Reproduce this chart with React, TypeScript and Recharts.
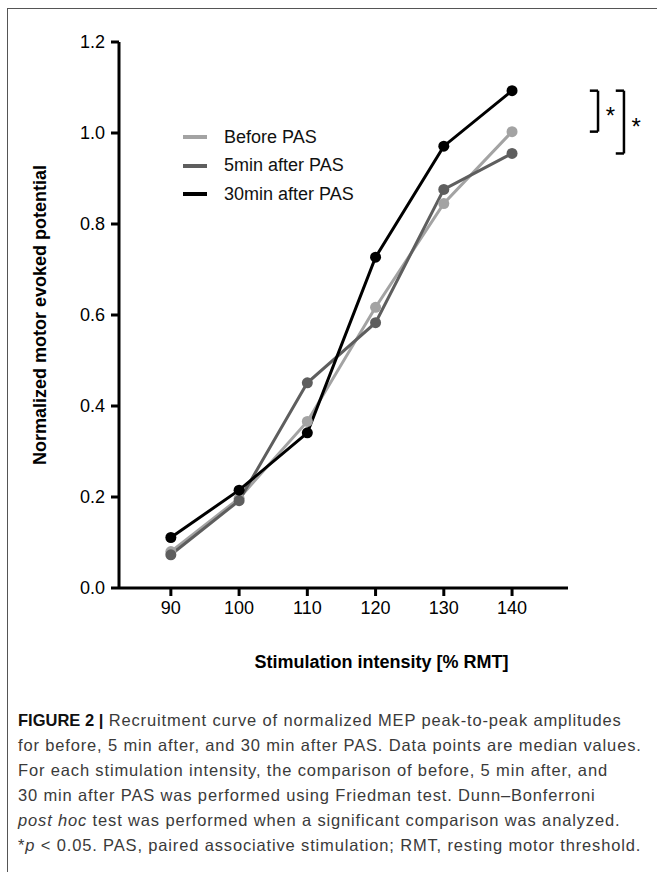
import { LineChart, Line, XAxis, YAxis, ReferenceLine, ReferenceDot } from 'recharts';

const intensities = [90, 100, 110, 120, 130, 140];
const beforePAS = [0.08, 0.197, 0.366, 0.617, 0.845, 1.003];
const after5min = [0.073, 0.192, 0.451, 0.583, 0.876, 0.955];
const after30min = [0.111, 0.215, 0.341, 0.727, 0.971, 1.093];
const yTicks = [0, 0.2, 0.4, 0.6, 0.8, 1.0, 1.2];

const seriesInfo = [
  { key: 'before', name: 'Before PAS', color: '#a3a3a3' },
  { key: 'min5', name: '5min after PAS', color: '#5e5e5e' },
  { key: 'min30', name: '30min after PAS', color: '#000000' },
];

const chartData = intensities.map((x, i) => ({
  x,
  before: beforePAS[i],
  min5: after5min[i],
  min30: after30min[i],
}));

const FONT = '"Liberation Sans", Arial, sans-serif';

// bracket positions, on the right of the last point
const last = intensities.length - 1;
const bracketInner = 152.6;
const bracketOuter = 156.4;
const bracketTick = 1.2;

function YTitle(props: any) {
  const vb = props.viewBox;
  const cx = vb.x + 20;
  const cy = vb.y + vb.height / 2;
  return (
    <text x={cx} y={cy} transform={`rotate(-90, ${cx}, ${cy})`} textAnchor="middle"
      dominantBaseline="central" fontFamily={FONT} fontWeight="bold" fontSize={18} fill="#000">
      Normalized motor evoked potential
    </text>
  );
}

function XTitle(props: any) {
  const vb = props.viewBox;
  return (
    <text x={vb.x + vb.width / 2 + 38} y={vb.y + 74} textAnchor="middle"
      dominantBaseline="central" fontFamily={FONT} fontWeight="bold" fontSize={18} fill="#000">
      Stimulation intensity [% RMT]
    </text>
  );
}

function LegendBox() {
  return (
    <div style={{ position: 'absolute', left: 183, top: 123, fontFamily: FONT, fontSize: 18, color: '#111' }}>
      {seriesInfo.map((s) => (
        <div key={s.key} style={{ display: 'flex', alignItems: 'center', height: 28.5 }}>
          <div style={{ width: 24, height: 4, background: s.color, marginRight: 17 }} />
          <span>{s.name}</span>
        </div>
      ))}
    </div>
  );
}

export default function App() {
  return (
    <div style={{ position: 'absolute', left: 0, top: 0, width: 657, height: 872, overflow: 'hidden', background: '#fff' }}>
      <div style={{ position: 'absolute', left: 7, top: 8, width: 700, height: 900, border: '1.5px solid #555', boxSizing: 'border-box' }} />
      <LineChart
        width={657}
        height={700}
        data={chartData}
        margin={{ top: 42, right: 89, left: 20, bottom: 22 }}
        style={{ position: 'absolute', left: 0, top: 0 }}
      >
        <XAxis
          dataKey="x"
          type="number"
          domain={[82.4, 148.2]}
          ticks={intensities}
          height={90}
          stroke="#000"
          strokeWidth={3}
          tickSize={8}
          tickMargin={5}
          tick={{ fill: '#000', fontSize: 18, fontFamily: FONT }}
          label={{ content: XTitle }}
        />
        <YAxis
          type="number"
          domain={[0, 1.2]}
          ticks={yTicks}
          width={99}
          stroke="#000"
          strokeWidth={3}
          tickSize={8}
          tickMargin={6}
          tickFormatter={(v: number) => v.toFixed(1)}
          tick={{ fill: '#000', fontSize: 18, fontFamily: FONT }}
          label={{ content: YTitle }}
        />
        {seriesInfo.map((s) => (
          <Line
            key={s.key}
            type="linear"
            dataKey={s.key}
            name={s.name}
            stroke={s.color}
            strokeWidth={3}
            dot={{ r: 5.5, fill: s.color, stroke: s.color, strokeWidth: 0 }}
            isAnimationActive={false}
          />
        ))}
        {/* inner bracket: 30min vs before */}
        <ReferenceLine ifOverflow="visible" stroke="#000" strokeWidth={2.5}
          segment={[{ x: bracketInner, y: after30min[last] }, { x: bracketInner, y: beforePAS[last] }]} />
        <ReferenceLine ifOverflow="visible" stroke="#000" strokeWidth={2.5}
          segment={[{ x: bracketInner - bracketTick, y: after30min[last] }, { x: bracketInner, y: after30min[last] }]} />
        <ReferenceLine ifOverflow="visible" stroke="#000" strokeWidth={2.5}
          segment={[{ x: bracketInner - bracketTick, y: beforePAS[last] }, { x: bracketInner, y: beforePAS[last] }]} />
        {/* outer bracket: 30min vs 5min */}
        <ReferenceLine ifOverflow="visible" stroke="#000" strokeWidth={2.5}
          segment={[{ x: bracketOuter, y: after30min[last] }, { x: bracketOuter, y: after5min[last] }]} />
        <ReferenceLine ifOverflow="visible" stroke="#000" strokeWidth={2.5}
          segment={[{ x: bracketOuter - bracketTick, y: after30min[last] }, { x: bracketOuter, y: after30min[last] }]} />
        <ReferenceLine ifOverflow="visible" stroke="#000" strokeWidth={2.5}
          segment={[{ x: bracketOuter - bracketTick, y: after5min[last] }, { x: bracketOuter, y: after5min[last] }]} />
        <ReferenceDot ifOverflow="visible" r={0} x={bracketInner + 1.8}
          y={(after30min[last] + beforePAS[last]) / 2}
          label={{ value: '*', position: 'center', fontSize: 24, fontFamily: FONT, fill: '#000', dy: 4 }} />
        <ReferenceDot ifOverflow="visible" r={0} x={bracketOuter + 1.8}
          y={(after30min[last] + after5min[last]) / 2}
          label={{ value: '*', position: 'center', fontSize: 24, fontFamily: FONT, fill: '#000', dy: 4 }} />
      </LineChart>
      <LegendBox />
      <div style={{
        position: 'absolute', left: 18, top: 708, width: 640, whiteSpace: 'nowrap',
        fontFamily: '"Liberation Sans", Arial, sans-serif',
        fontSize: 16.5, letterSpacing: 0.85, lineHeight: '25px', color: '#3a3a3a',
      }}>
        <div><b style={{ color: '#111', letterSpacing: 0 }}>FIGURE 2 |</b> Recruitment curve of normalized MEP peak-to-peak amplitudes</div>
        <div>for before, 5 min after, and 30 min after PAS. Data points are median values.</div>
        <div>For each stimulation intensity, the comparison of before, 5 min after, and</div>
        <div>30 min after PAS was performed using Friedman test. Dunn–Bonferroni</div>
        <div><i>post hoc</i> test was performed when a significant comparison was analyzed.</div>
        <div>*<i>p</i> &lt; 0.05. PAS, paired associative stimulation; RMT, resting motor threshold.</div>
      </div>
    </div>
  );
}
